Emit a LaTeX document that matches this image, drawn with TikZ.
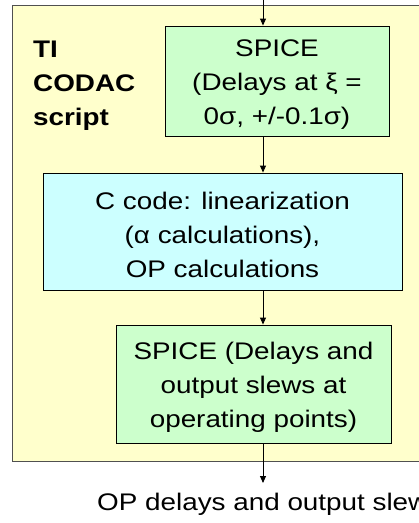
\documentclass[tikz,border=0pt]{standalone}
\usepackage{fontspec}
\setmainfont[FakeStretch=1.16]{Liberation Sans}
\usetikzlibrary{arrows.meta}

\definecolor{panelfill}{RGB}{255,255,204}
\definecolor{panelline}{RGB}{80,80,80}
\definecolor{spicefill}{RGB}{204,255,204}
\definecolor{codefill}{RGB}{204,255,255}

\begin{document}
\begin{tikzpicture}[x=1pt,y=-1pt,
  txt/.style={font=\fontsize{24}{34}\selectfont, align=center, inner sep=0pt},
  panel/.style={draw=panelline, line width=1.3pt, fill=panelfill, inner sep=0pt},
  stepbox/.style={draw=black, line width=0.9pt, inner sep=0pt},
  steptext/.style={label={[txt, yshift=-3.5pt]center:{#1}}},
  flow/.style={draw=black, line width=0.9pt, -{Triangle[length=7pt,width=6pt]}}
]
\useasboundingbox (0,0) rectangle (419,523);
\clip (0,0) rectangle (419,523);
\fill[white] (0,0) rectangle (419,523);

% script frame (runs past the right edge)
\node[panel, anchor=north west, minimum width=430pt, minimum height=456pt] (panel) at (12,5) {};

% flow steps
\node[stepbox, fill=spicefill, minimum width=224pt, minimum height=110pt,
  steptext={SPICE\\(Delays at ξ =\\0σ, +/-0.1σ)}] (spiceA) at (277,81) {};
\node[stepbox, fill=codefill, minimum width=359pt, minimum height=117pt,
  steptext={C code: linearization\\(α calculations),\\OP calculations}] (ccode) at (222.5,231.5) {};
\node[stepbox, fill=spicefill, minimum width=275pt, minimum height=118pt,
  steptext={SPICE (Delays and\\output slews at\\operating points)}] (spiceB) at (253.5,384) {};

% frame label
\node[txt, font=\fontsize{24}{34}\selectfont\bfseries, align=left, anchor=west] (label) at (33,86)
  {TI\\CODAC\\script};

% output label
\node[txt, anchor=base west] (out) at (97,510) {OP delays and output slews};

% connectors
\coordinate (in) at (263,0);
\coordinate (outtip) at (263,483);
\draw[flow] (in) -- (in |- spiceA.north);
\draw[flow] (in |- spiceA.south) -- (in |- ccode.north);
\draw[flow] (in |- ccode.south) -- (in |- spiceB.north);
\draw[flow] (in |- spiceB.south) -- (outtip);
\end{tikzpicture}
\end{document}
